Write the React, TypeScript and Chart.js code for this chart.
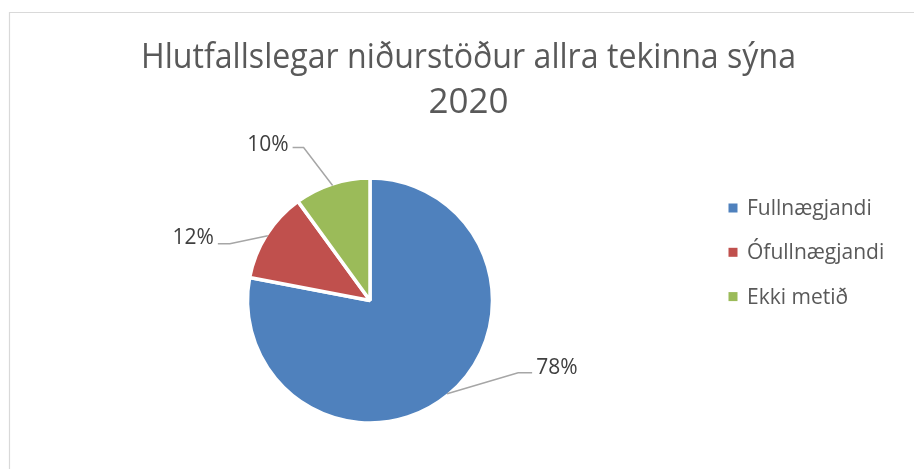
import React, { useEffect, useRef } from "react";
import { Chart, registerables } from "chart.js";

Chart.register(...registerables);

const titleLines = ["Hlutfallslegar niðurstöður allra tekinna sýna", "2020"];
const categories = ["Fullnægjandi", "Ófullnægjandi", "Ekki metið"];
const values = [78, 12, 10];
const colors = ["#4F81BD", "#C0504D", "#9BBB59"];

// per-slice leader geometry (elbow offset from arc edge, horizontal run, text side)
const leaderStyle = [
  { dx: 71, dy: -21, run: 14, side: 1, tdy: 1 },
  { dx: -38, dy: 8, run: -12, side: -1, tdy: 0 },
  { dx: -29, dy: -38, run: -11, side: -1, tdy: 4 },
];

const decorPlugin = {
  id: "decor",
  beforeDraw(chart: any) {
    const ctx = chart.ctx;
    ctx.save();
    ctx.fillStyle = "#ffffff";
    ctx.fillRect(0, 0, chart.width, chart.height);
    ctx.strokeStyle = "#d9d9d9";
    ctx.lineWidth = 1.2;
    ctx.beginPath();
    ctx.moveTo(9.5, chart.height + 5);
    ctx.lineTo(9.5, 12.5);
    ctx.lineTo(chart.width + 5, 12.5);
    ctx.stroke();
    ctx.restore();
  },
  afterDraw(chart: any) {
    const ctx = chart.ctx;
    ctx.save();
    // title
    ctx.fillStyle = "#595959";
    ctx.textAlign = "center";
    ctx.textBaseline = "alphabetic";
    ctx.font = "400 35px 'Open Sans'";
    ctx.fillText(titleLines[0], 468.5, 67.5, 655);
    ctx.fillText(titleLines[1], 468.5, 113, 655);

    // data labels with leader lines
    const meta = chart.getDatasetMeta(0);
    const total = values.reduce((a, b) => a + b, 0);
    ctx.font = "21px 'Open Sans'";
    meta.data.forEach((arc: any, i: number) => {
      const p = arc.getProps(["x", "y", "startAngle", "endAngle", "outerRadius"], true);
      const mid = (p.startAngle + p.endAngle) / 2;
      const r = p.outerRadius - 1.5;
      const ax = p.x + Math.cos(mid) * r;
      const ay = p.y + Math.sin(mid) * r;
      const s = leaderStyle[i];
      const ex = ax + s.dx;
      const ey = ay + s.dy;
      const hx = ex + s.run;
      ctx.strokeStyle = "#a6a6a6";
      ctx.lineWidth = 1.5;
      ctx.beginPath();
      ctx.moveTo(ax, ay);
      ctx.lineTo(ex, ey);
      ctx.lineTo(hx, ey);
      ctx.stroke();
      ctx.fillStyle = "#404040";
      ctx.textAlign = s.side > 0 ? "left" : "right";
      ctx.fillText(Math.round((values[i] / total) * 100) + "%", hx + s.side * 4, ey + s.tdy);
    });

    // legend
    ctx.font = "21px 'Open Sans'";
    ctx.textAlign = "left";
    categories.forEach((c, i) => {
      const cy = 208 + i * 44.3;
      ctx.fillStyle = colors[i];
      ctx.fillRect(728.5, cy - 4.5, 9, 9);
      ctx.fillStyle = "#595959";
      ctx.fillText(c, 747, cy + 7);
    });
    ctx.restore();
  },
};

export default function App() {
  const ref = useRef<HTMLCanvasElement>(null);
  useEffect(() => {
    if (!ref.current) return;
    const chart = new Chart(ref.current, {
      type: "pie",
      data: {
        labels: categories,
        datasets: [
          {
            data: values,
            backgroundColor: colors,
            borderColor: "#ffffff",
            borderWidth: 3.5,
            radius: 122.5,
          } as any,
        ],
      },
      options: {
        responsive: false,
        animation: false,
        events: [],
        layout: { padding: { left: 200, right: 374, top: 170, bottom: 38 } },
        plugins: {
          legend: { display: false },
          title: { display: false },
          tooltip: { enabled: false },
        },
      },
      plugins: [decorPlugin],
    });
    return () => chart.destroy();
  }, []);
  return (
    <div style={{ position: "absolute", left: 0, top: 0, width: 914, height: 469, background: "#fff" }}>
      <canvas ref={ref} width={914} height={469} style={{ width: 914, height: 469 }} />
    </div>
  );
}
